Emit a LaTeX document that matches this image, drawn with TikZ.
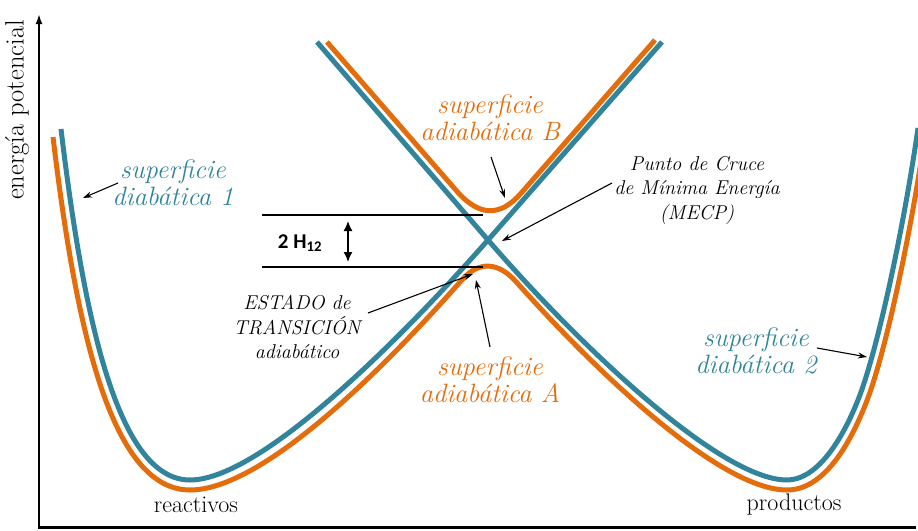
\documentclass[tikz,border=0pt]{standalone}
\usepackage{fontspec}
\newfontfamily\calibri{Carlito}
\usetikzlibrary{arrows.meta}
\definecolor{diabcol}{HTML}{31849B}
\definecolor{adiabcol}{HTML}{E46C0A}
\begin{document}
\begin{tikzpicture}[x=1pt,y=-1pt,
  diab/.style={diabcol,line width=5pt},
  adiab/.style={adiabcol,line width=5pt},
  surflabel/.style={font=\fontsize{26.5}{27}\selectfont\itshape,align=center},
  notelabel/.style={font=\fontsize{20}{24.5}\selectfont\itshape,align=center},
  plainlabel/.style={font=\fontsize{24}{26}\selectfont},
  pointer/.style={-{Stealth[length=9pt,width=6pt]},line width=1.1pt}]
\useasboundingbox (0,0) rectangle (918,530);

\begin{scope}
\clip (0,0) rectangle (918,530);
\draw[diab] (61,129) .. controls (85,330) and (120,480) .. (190,480)
  .. controls (260,480) and (400,340) .. (488,240) -- (662,42);
\draw[diab] (317,42) -- (488,240) .. controls (578,344) and (720,480) .. (787,480)
  .. controls (815,480) and (840,445) .. (858,400)
  .. controls (878,350) and (905,220) .. (918,128);
\draw[adiab] (53,137) .. controls (77,338) and (113,490) .. (190,490)
  .. controls (262,490) and (382,370.7) .. (462,279.8)
  .. controls (479.3,260.1) and (498.7,262.5) .. (516,281.6)
  .. controls (590,365) and (718,490) .. (787,490)
  .. controls (822,490) and (848,449) .. (866,403)
  .. controls (886,353) and (913,222) .. (926,128);
\draw[adiab] (327,42) -- (458,192.5) .. controls (479.7,216.5) and (500.3,216.8) .. (521,193.3) -- (655,40);
\end{scope}

\coordinate (yaxbot) at (39,528);
\coordinate (yaxtop) at (39,14);
\coordinate (xaxleft) at (38,527);
\coordinate (xaxright) at (916,527);
\draw[line width=2pt,-{Latex[length=10pt,width=7pt]}] (yaxbot) -- (yaxtop);
\draw[line width=3pt] (xaxleft) -- (xaxright);

\coordinate (gapupL) at (262,215);
\coordinate (gapupR) at (483,215);
\coordinate (gaplowL) at (262,267);
\coordinate (gaplowR) at (483,267);
\draw[line width=2pt] (gapupL) -- (gapupR);
\draw[line width=2pt] (gaplowL) -- (gaplowR);
\coordinate (gaptop) at (348,221);
\coordinate (gapbot) at (348,262);
\draw[line width=1.5pt,{Latex[length=10pt,width=9pt]}-{Latex[length=10pt,width=9pt]}] (gaptop) -- (gapbot);
\node[font=\calibri\bfseries\fontsize{21}{24}\selectfont] (gap) at (300,243) {2 H\textsubscript{12}};

\node[font=\fontsize{26.5}{28}\selectfont,rotate=90] (ylab) at (17,110) {energía potencial};
\node[plainlabel] (reac) at (196,505) {reactivos};
\node[plainlabel] (prod) at (794,505) {productos};

\node[surflabel,diabcol] (diab1) at (173,183) {superficie\\diabática 1};
\node[surflabel,diabcol] (diab2) at (756,351) {superficie\\diabática 2};
\node[surflabel,adiabcol] (adiabB) at (490,118) {superficie\\adiabática B};
\node[surflabel,adiabcol] (adiabA) at (490,380) {superficie\\adiabática A};
\node[notelabel] (mecp) at (697,190) {Punto de Cruce\\de Mínima Energía\\(MECP)};
\node[notelabel] (ts) at (297,327) {ESTADO de\\TRANSICIÓN\\adiabático};

\coordinate (diab1from) at (118,183);
\coordinate (diab1to) at (83,198);
\coordinate (adiabBfrom) at (491,157);
\coordinate (adiabBto) at (505,198);
\coordinate (mecpfrom) at (612,183);
\coordinate (mecpto) at (502,241);
\coordinate (tsfrom) at (368,313);
\coordinate (tsto) at (473,274);
\coordinate (adiabAfrom) at (490,347);
\coordinate (adiabAto) at (476,280);
\coordinate (diab2from) at (817,348);
\coordinate (diab2to) at (867,357);
\draw[pointer] (diab1from) -- (diab1to);
\draw[pointer] (adiabBfrom) -- (adiabBto);
\draw[pointer] (mecpfrom) -- (mecpto);
\draw[pointer] (tsfrom) -- (tsto);
\draw[pointer] (adiabAfrom) -- (adiabAto);
\draw[pointer] (diab2from) -- (diab2to);
\end{tikzpicture}
\end{document}
